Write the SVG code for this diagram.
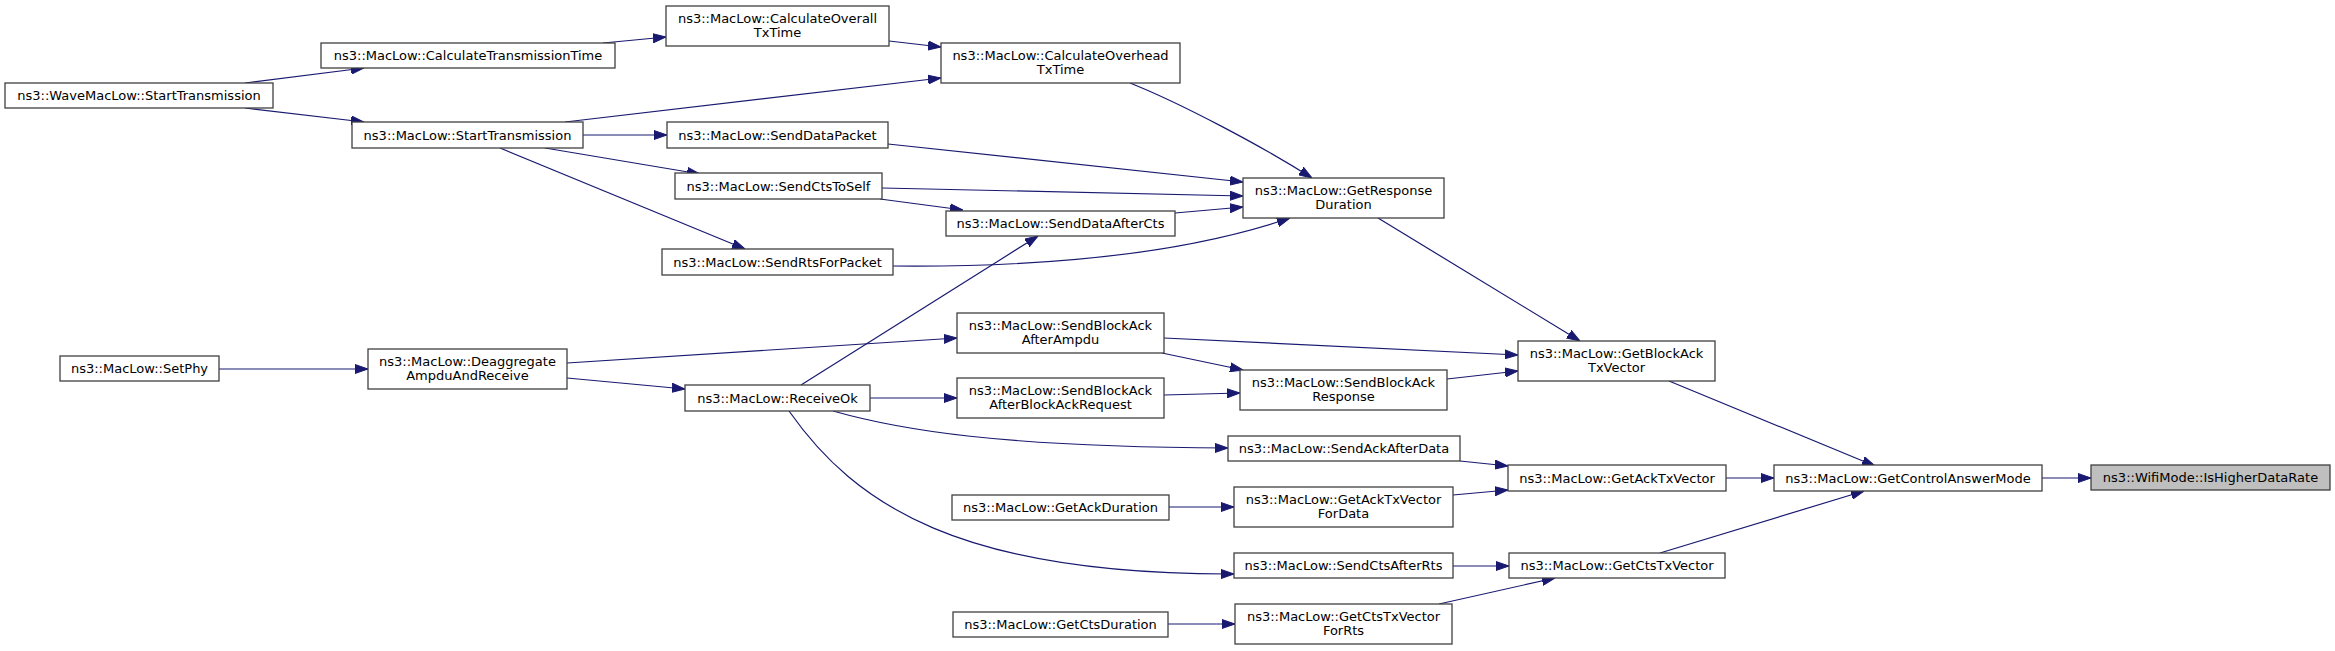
<svg xmlns="http://www.w3.org/2000/svg" width="2335" height="651" viewBox="0 0 2335 651">
<defs>
<style>
.n rect{fill:#ffffff;stroke:#404040;stroke-width:1.3}
.n.root rect{fill:#bfbfbf}
.n text{font-family:"DejaVu Sans","Liberation Sans",sans-serif;font-size:13px;fill:#000000;text-anchor:middle}
.e path{fill:none;stroke:#191970;stroke-width:1.2;marker-end:url(#ah)}
</style>
<marker id="ah" markerUnits="userSpaceOnUse" markerWidth="13" markerHeight="10" viewBox="0 0 13 10" refX="13" refY="5" orient="auto">
<path d="M0,0.5 L13,5 L0,9.5 z" fill="#191970" stroke="#191970" stroke-width="1"/>
</marker>
</defs>
<rect width="2335" height="651" fill="#ffffff"/>
<g id="connectors" class="e">
<path d="M245,83 L364,68"/>
<path d="M245,108 L364,122"/>
<path d="M603,43 L666,37"/>
<path d="M889,41 L941,47"/>
<path d="M565,122 L941,78"/>
<path d="M583,135 L667,135"/>
<path d="M545,148 L700,174"/>
<path d="M500,148 L745,249"/>
<path d="M1130,83 C1180,103 1260,145 1312,178"/>
<path d="M888,144 L1243,182"/>
<path d="M882,188 L1243,196"/>
<path d="M880,199 L963,210"/>
<path d="M1175,213 L1243,207"/>
<path d="M893,266 C1000,267 1160,262 1290,218"/>
<path d="M801,385 L1038,236"/>
<path d="M1378,218 L1580,341"/>
<path d="M219,369 L368,369"/>
<path d="M567,363 L957,338"/>
<path d="M567,378 L685,389"/>
<path d="M870,398 L957,398"/>
<path d="M1164,338 L1518,355"/>
<path d="M1162,353 L1243,370"/>
<path d="M1164,395 L1240,393"/>
<path d="M1447,379 L1518,371"/>
<path d="M833,411 C900,430 1000,447 1228,448"/>
<path d="M789,411 C855,505 960,575 1234,574"/>
<path d="M1169,507 L1234,507"/>
<path d="M1168,624 L1235,624"/>
<path d="M1669,381 L1875,466"/>
<path d="M1460,461 L1508,466"/>
<path d="M1453,495 L1508,490"/>
<path d="M1726,478 L1774,478"/>
<path d="M1453,566 L1509,566"/>
<path d="M1439,604 L1555,578"/>
<path d="M1660,553 L1864,491"/>
<path d="M2042,478 L2091,478"/>
</g>
<g id="n1" class="n"><rect x="5" y="83" width="268" height="25"/><text x="139" y="100">ns3::WaveMacLow::StartTransmission</text></g>
<g id="n2" class="n"><rect x="321" y="43" width="294" height="25"/><text x="468" y="60">ns3::MacLow::CalculateTransmissionTime</text></g>
<g id="n3" class="n"><rect x="352" y="122" width="231" height="26"/><text x="467.5" y="139.5">ns3::MacLow::StartTransmission</text></g>
<g id="n4" class="n"><rect x="666" y="6" width="223" height="40"/><text x="777.5" y="23">ns3::MacLow::CalculateOverall</text><text x="777.5" y="37">TxTime</text></g>
<g id="n5" class="n"><rect x="941" y="43" width="239" height="40"/><text x="1060.5" y="60">ns3::MacLow::CalculateOverhead</text><text x="1060.5" y="74">TxTime</text></g>
<g id="n6" class="n"><rect x="667" y="122" width="221" height="26"/><text x="777.5" y="139.5">ns3::MacLow::SendDataPacket</text></g>
<g id="n7" class="n"><rect x="675" y="173" width="207" height="26"/><text x="778.5" y="190.5">ns3::MacLow::SendCtsToSelf</text></g>
<g id="n8" class="n"><rect x="946" y="211" width="229" height="25"/><text x="1060.5" y="228">ns3::MacLow::SendDataAfterCts</text></g>
<g id="n9" class="n"><rect x="662" y="249" width="231" height="26"/><text x="777.5" y="266.5">ns3::MacLow::SendRtsForPacket</text></g>
<g id="n10" class="n"><rect x="1243" y="178" width="201" height="40"/><text x="1343.5" y="195">ns3::MacLow::GetResponse</text><text x="1343.5" y="209">Duration</text></g>
<g id="n11" class="n"><rect x="60" y="356" width="159" height="25"/><text x="139.5" y="373">ns3::MacLow::SetPhy</text></g>
<g id="n12" class="n"><rect x="368" y="349" width="199" height="40"/><text x="467.5" y="366">ns3::MacLow::Deaggregate</text><text x="467.5" y="380">AmpduAndReceive</text></g>
<g id="n13" class="n"><rect x="957" y="313" width="207" height="40"/><text x="1060.5" y="330">ns3::MacLow::SendBlockAck</text><text x="1060.5" y="344">AfterAmpdu</text></g>
<g id="n14" class="n"><rect x="685" y="385" width="185" height="26"/><text x="777.5" y="402.5">ns3::MacLow::ReceiveOk</text></g>
<g id="n15" class="n"><rect x="957" y="378" width="207" height="40"/><text x="1060.5" y="395">ns3::MacLow::SendBlockAck</text><text x="1060.5" y="409">AfterBlockAckRequest</text></g>
<g id="n16" class="n"><rect x="952" y="495" width="217" height="25"/><text x="1060.5" y="512">ns3::MacLow::GetAckDuration</text></g>
<g id="n17" class="n"><rect x="953" y="612" width="215" height="25"/><text x="1060.5" y="629">ns3::MacLow::GetCtsDuration</text></g>
<g id="n18" class="n"><rect x="1518" y="341" width="197" height="40"/><text x="1616.5" y="358">ns3::MacLow::GetBlockAck</text><text x="1616.5" y="372">TxVector</text></g>
<g id="n19" class="n"><rect x="1240" y="370" width="207" height="40"/><text x="1343.5" y="387">ns3::MacLow::SendBlockAck</text><text x="1343.5" y="401">Response</text></g>
<g id="n20" class="n"><rect x="1228" y="436" width="232" height="25"/><text x="1344" y="453">ns3::MacLow::SendAckAfterData</text></g>
<g id="n21" class="n"><rect x="1508" y="465" width="218" height="26"/><text x="1617" y="482.5">ns3::MacLow::GetAckTxVector</text></g>
<g id="n22" class="n"><rect x="1774" y="465" width="268" height="26"/><text x="1908" y="482.5">ns3::MacLow::GetControlAnswerMode</text></g>
<g id="n23" class="n root"><rect x="2091" y="465" width="239" height="25"/><text x="2210.5" y="482">ns3::WifiMode::IsHigherDataRate</text></g>
<g id="n24" class="n"><rect x="1234" y="487" width="219" height="40"/><text x="1343.5" y="504">ns3::MacLow::GetAckTxVector</text><text x="1343.5" y="518">ForData</text></g>
<g id="n25" class="n"><rect x="1234" y="553" width="219" height="25"/><text x="1343.5" y="570">ns3::MacLow::SendCtsAfterRts</text></g>
<g id="n26" class="n"><rect x="1509" y="553" width="216" height="25"/><text x="1617" y="570">ns3::MacLow::GetCtsTxVector</text></g>
<g id="n27" class="n"><rect x="1235" y="604" width="217" height="40"/><text x="1343.5" y="621">ns3::MacLow::GetCtsTxVector</text><text x="1343.5" y="635">ForRts</text></g>
</svg>
